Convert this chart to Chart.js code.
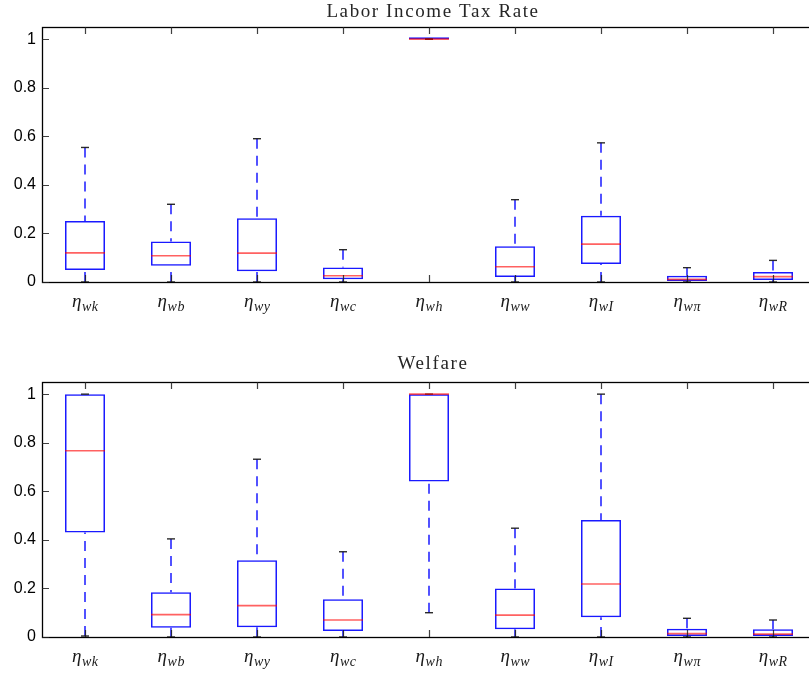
<!DOCTYPE html>
<html>
<head>
<meta charset="utf-8">
<script src="https://cdn.jsdelivr.net/npm/chart.js@4.4.1/dist/chart.umd.min.js"></script>
<style>
  html, body { margin: 0; padding: 0; background: #fff; overflow: hidden; width: 809px; height: 677px; }
  .panel { position: absolute; left: 0; width: 830px; }
</style>
</head>
<body>
<div class="panel" style="top:0;height:320px"><canvas id="labor" width="830" height="320"></canvas></div>
<div class="panel" style="top:320px;height:357px"><canvas id="welfare" width="830" height="357"></canvas></div>
<script>
// Response coefficients (subscripts of eta)
const categories = ['wk', 'wb', 'wy', 'wc', 'wh', 'ww', 'wI', 'w\u03C0', 'wR'];
const yTicks = [0, 0.2, 0.4, 0.6, 0.8, 1];

// Labor income tax rate: whisker ends, quartiles and medians
const laborLower  = [0, 0, 0, 0, 1, 0, 0, 0, 0];
const laborQ1     = [0.049, 0.067, 0.044, 0.011, 1, 0.021, 0.074, 0.004, 0.008];
const laborMedian = [0.120, 0.108, 0.119, 0.026, 1, 0.063, 0.156, 0.011, 0.022];
const laborQ3     = [0.251, 0.167, 0.262, 0.060, 1, 0.147, 0.273, 0.026, 0.041];
const laborUpper  = [0.554, 0.320, 0.590, 0.133, 1, 0.339, 0.573, 0.059, 0.089];

// Welfare: whisker ends, quartiles and medians
const welfareLower  = [0.004, 0, 0, 0, 0.100, 0, 0, 0, 0];
const welfareQ1     = [0.430, 0.038, 0.040, 0.025, 0.640, 0.032, 0.081, 0.004, 0.004];
const welfareMedian = [0.767, 0.092, 0.129, 0.070, 1, 0.090, 0.218, 0.014, 0.012];
const welfareQ3     = [1, 0.184, 0.316, 0.155, 1, 0.200, 0.482, 0.034, 0.032];
const welfareUpper  = [1, 0.404, 0.732, 0.351, 1, 0.448, 1, 0.077, 0.070];

// Whiskers, caps and medians drawn on top of the floating-bar boxes
const boxPlotPlugin = {
  id: 'boxPlot',
  afterDatasetsDraw(chart, args, opts) {
    const { ctx, scales: { x, y } } = chart;
    const meta = chart.getDatasetMeta(0);
    ctx.save();
    opts.median.forEach((m, i) => {
      const cx = Math.round(x.getPixelForValue(i));
      const half = meta.data[i].width / 2;
      const pLow = y.getPixelForValue(opts.lower[i]);
      const pQ1 = y.getPixelForValue(opts.q1[i]);
      const pQ3 = y.getPixelForValue(opts.q3[i]);
      const pUp = y.getPixelForValue(opts.upper[i]);
      // dashed whiskers
      ctx.strokeStyle = 'rgba(0,0,255,0.9)';
      ctx.lineWidth = 1.5;
      ctx.setLineDash([10, 7]);
      if (pQ3 - pUp > 0.5) {
        ctx.beginPath(); ctx.moveTo(cx, pUp); ctx.lineTo(cx, pQ3); ctx.stroke();
      }
      if (pLow - pQ1 > 0.5) {
        ctx.beginPath(); ctx.moveTo(cx, pLow); ctx.lineTo(cx, pQ1); ctx.stroke();
      }
      ctx.setLineDash([]);
      // caps
      ctx.strokeStyle = 'rgba(20,20,20,0.9)';
      ctx.lineWidth = 1.4;
      [pUp, pLow].forEach(p => {
        ctx.beginPath(); ctx.moveTo(cx - 4, p); ctx.lineTo(cx + 4, p); ctx.stroke();
      });
      // median
      const pm = y.getPixelForValue(m);
      ctx.strokeStyle = 'rgba(255,0,0,0.62)';
      ctx.lineWidth = 1.6;
      ctx.beginPath(); ctx.moveTo(cx - half, pm); ctx.lineTo(cx + half, pm); ctx.stroke();
    });
    ctx.restore();
  },
  afterDraw(chart, args, opts) {
    const { ctx, chartArea: a, scales: { x, y } } = chart;
    ctx.save();
    // axes box
    ctx.strokeStyle = '#000';
    ctx.lineWidth = 1.3;
    ctx.strokeRect(Math.round(a.left) + 0.5, Math.round(a.top) + 0.5,
                   Math.round(a.right - a.left), Math.round(a.bottom - a.top));
    // inward tick marks on all four sides
    ctx.strokeStyle = 'rgba(30,30,30,0.85)';
    ctx.lineWidth = 1.2;
    const tl = 7;
    yTicks.forEach(v => {
      const p = Math.round(y.getPixelForValue(v)) + 0.5;
      ctx.beginPath();
      ctx.moveTo(a.left, p); ctx.lineTo(a.left + tl, p);
      ctx.moveTo(a.right, p); ctx.lineTo(a.right - tl, p);
      ctx.stroke();
    });
    categories.forEach((c, i) => {
      const p = Math.round(x.getPixelForValue(i)) + 0.5;
      ctx.beginPath();
      ctx.moveTo(p, a.top); ctx.lineTo(p, a.top + tl);
      ctx.moveTo(p, a.bottom); ctx.lineTo(p, a.bottom - tl);
      ctx.stroke();
    });
    // category labels: eta with italic subscript
    ctx.fillStyle = '#1a1a1a';
    ctx.textBaseline = 'alphabetic';
    ctx.textAlign = 'left';
    const base = a.bottom + 25;
    const mainFont = 'italic 19px "Liberation Serif"';
    const subFont = 'italic 14px "Liberation Serif"';
    categories.forEach((c, i) => {
      const cx = x.getPixelForValue(i);
      ctx.font = mainFont;
      const wMain = ctx.measureText('\u03B7').width;
      ctx.font = subFont;
      ctx.letterSpacing = '0.5px';
      const wSub = ctx.measureText(c).width;
      const start = cx - (wMain + wSub) / 2;
      ctx.letterSpacing = '0px';
      ctx.font = mainFont;
      ctx.fillText('\u03B7', start, base);
      ctx.font = subFont;
      ctx.letterSpacing = '0.5px';
      ctx.fillText(c, start + wMain + 0.5, base + 4);
      ctx.letterSpacing = '0px';
    });
    // panel title
    ctx.font = '19px "Liberation Serif"';
    ctx.letterSpacing = '1.6px';
    ctx.fillStyle = '#262626';
    ctx.textAlign = 'center';
    ctx.fillText(opts.title, (a.left + a.right) / 2 + 4, a.top - opts.titleGap);
    ctx.restore();
  }
};

function makePanel(id, title, titleGap, padTop, padBottom, lower, q1, median, q3, upper) {
  return new Chart(document.getElementById(id), {
    type: 'bar',
    data: {
      labels: categories,
      datasets: [{
        data: q1.map((v, i) => [v, q3[i]]),
        backgroundColor: 'rgba(0,0,0,0)',
        borderColor: 'rgba(0,0,255,0.9)',
        borderWidth: 1.5,
        borderSkipped: false,
        minBarLength: 2,
        barPercentage: 0.465,
        categoryPercentage: 1
      }]
    },
    options: {
      responsive: false,
      animation: false,
      devicePixelRatio: 1,
      layout: { padding: { left: 0, right: 14, top: padTop, bottom: padBottom } },
      scales: {
        x: { display: false, offset: true, grid: { display: false } },
        y: {
          min: 0, max: 1.05,
          afterFit(s) { s.width = 42; },
          afterBuildTicks(s) { s.ticks = yTicks.map(v => ({ value: v })); },
          ticks: {
            callback: v => String(v),
            font: { family: '"Liberation Sans"', size: 16 },
            color: '#000',
            padding: 6
          },
          grid: { display: false, drawTicks: false },
          border: { display: false }
        }
      },
      plugins: {
        legend: { display: false },
        tooltip: { enabled: false },
        boxPlot: { title, titleGap, lower, q1, median, q3, upper }
      }
    },
    plugins: [boxPlotPlugin]
  });
}

makePanel('labor', 'Labor Income Tax Rate', 10, 27, 38,
  laborLower, laborQ1, laborMedian, laborQ3, laborUpper);
makePanel('welfare', 'Welfare', 13, 62, 40,
  welfareLower, welfareQ1, welfareMedian, welfareQ3, welfareUpper);
</script>
</body>
</html>
